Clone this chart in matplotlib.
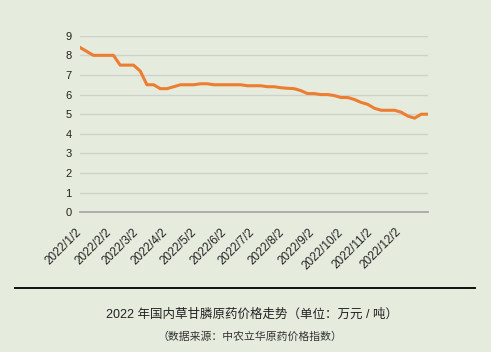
import matplotlib.pyplot as plt
import numpy as np
import pandas as pd

# 周度价格（万元/吨）
dates = pd.date_range("2022-01-02", periods=53, freq="7D")
prices = [8.4, 8.2, 8.0, 8.0, 8.0, 8.0, 7.5, 7.5, 7.5, 7.2,
          6.5, 6.5, 6.3, 6.3, 6.4, 6.5, 6.5, 6.5, 6.55, 6.55,
          6.5, 6.5, 6.5, 6.5, 6.5, 6.45, 6.45, 6.45, 6.4, 6.4,
          6.35, 6.32, 6.3, 6.2, 6.05, 6.05, 6.0, 6.0, 5.95, 5.85,
          5.85, 5.75, 5.6, 5.5, 5.3, 5.2, 5.2, 5.2, 5.1, 4.9,
          4.8, 5.0, 5.0]
tick_dates = pd.date_range("2022-01-01", periods=12, freq="MS") + pd.Timedelta(days=1)
tick_labels = ["2022/%d/2" % m for m in range(1, 13)]
yticks = list(range(0, 10))

title = "2022 年国内草甘膦原药价格走势（单位：万元 / 吨）"
source = "（数据来源：中农立华原药价格指数）"

bg = "#E5ECDD"
plt.rcParams['font.family'] = ['Liberation Sans', 'Noto Sans CJK SC', 'DejaVu Sans']

fig = plt.figure(figsize=(4.91, 3.52), dpi=100, facecolor=bg)
ax = fig.add_axes([80 / 491, 1 - 212.3 / 352, 348 / 491, (212.3 - 35.7) / 352])
ax.set_facecolor(bg)

ax.plot(dates, prices, color="#ED7D31", linewidth=2.2, solid_joinstyle="round")

ax.set_ylim(0, 9)
ax.set_yticks(yticks)
ax.set_xlim(dates[0], dates[-1])
ax.set_xticks(tick_dates)
ax.set_xticklabels(tick_labels, rotation=45, ha="right", va="center",
                   rotation_mode="anchor")
ax.tick_params(axis="x", length=0, labelsize=8.5, pad=13, colors="#222222")
ax.tick_params(axis="y", length=0, labelsize=8, pad=6, colors="#222222")

ax.grid(axis="y", color="#CFD2CB", linewidth=1)
ax.set_axisbelow(True)
for s in ["top", "right", "left"]:
    ax.spines[s].set_visible(False)
ax.spines["bottom"].set_color("#A8A8A8")
ax.spines["bottom"].set_linewidth(1.3)

# 分隔线与标题
fig.add_artist(plt.Line2D([15 / 491, 475 / 491], [1 - 287.7 / 352] * 2,
                          color="#111111", linewidth=1.4))
fig.text(0.513, 1 - 315 / 352, title, ha="center", va="center",
         fontsize=9, color="#222222",
         family=['Liberation Sans', 'Noto Sans CJK SC'])
fig.text(0.51, 1 - 336.5 / 352, source, ha="center", va="center",
         fontsize=7.8, color="#333333", family=['Noto Sans CJK SC'])

fig.savefig("out.png", dpi=100, facecolor=bg)
